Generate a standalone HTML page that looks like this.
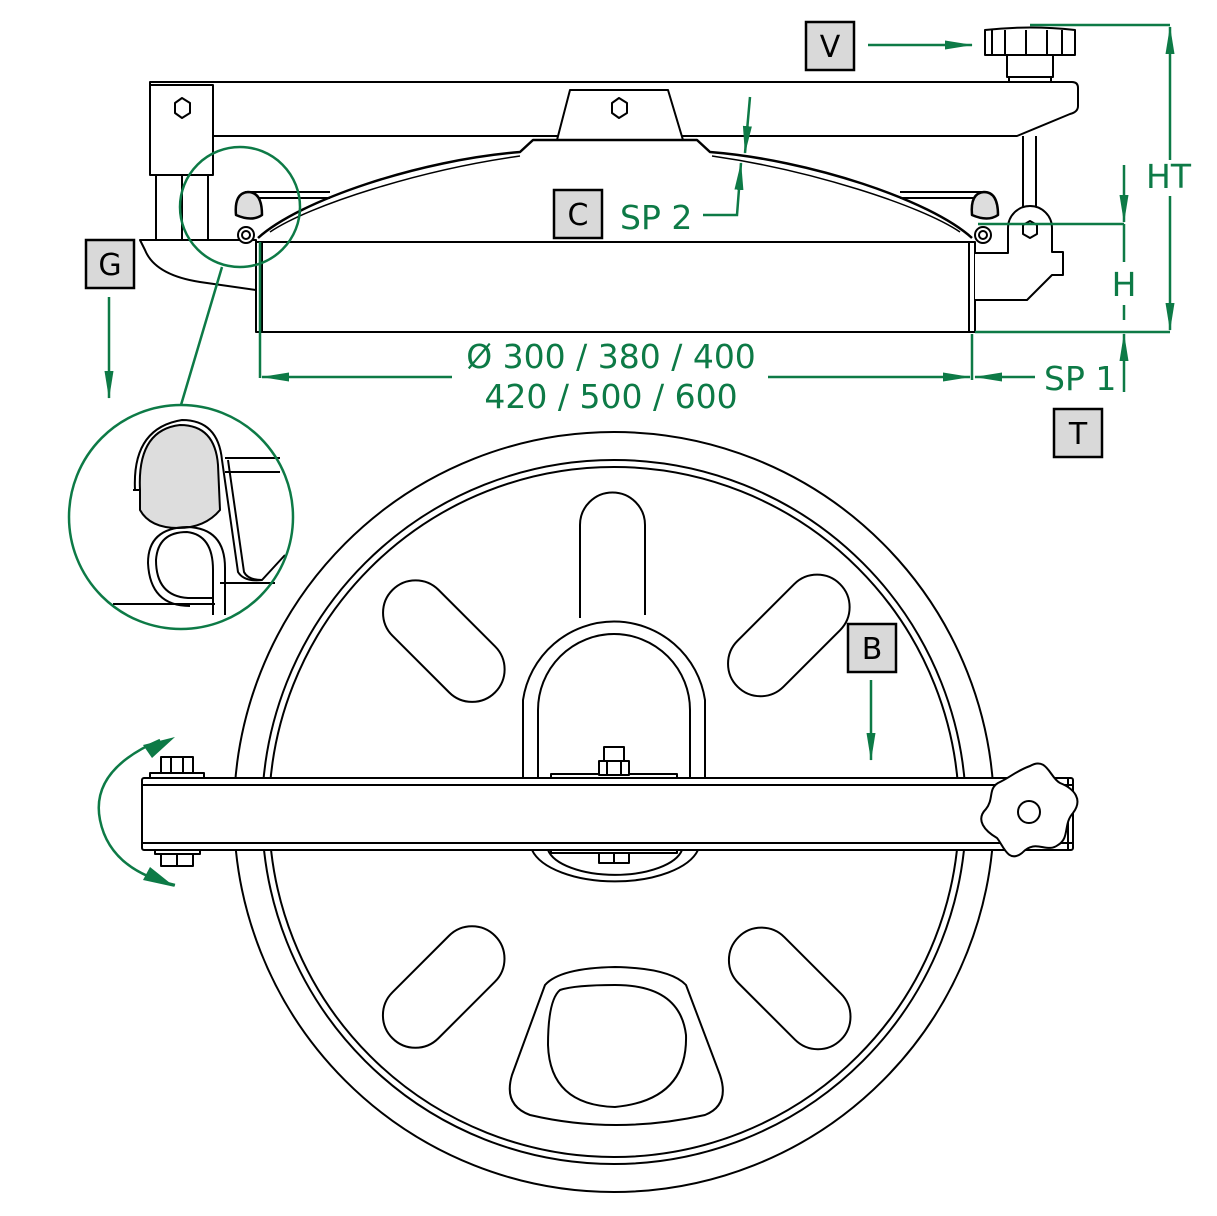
<!DOCTYPE html>
<html><head><meta charset="utf-8"><style>
html,body{margin:0;padding:0;background:#fff}
svg{display:block}
text{font-family:"DejaVu Sans","Liberation Sans",sans-serif}
</style></head><body>
<svg width="1217" height="1216" viewBox="0 0 1217 1216" xmlns="http://www.w3.org/2000/svg">
<defs>
<marker id="ahL" viewBox="0 0 28 10" refX="27" refY="5" markerWidth="28" markerHeight="10" orient="auto-start-reverse" markerUnits="userSpaceOnUse" preserveAspectRatio="none"><path d="M0,0.5 L28,5 L0,9.5 z" fill="#0d7a46"/></marker>
</defs>
<g fill="none" stroke="#000" stroke-width="2" stroke-linejoin="round">
<!-- knob V -->
<path d="M985,30 Q1030,25 1075,30 L1075,55 L985,55 Z" fill="#fff"/>
<path d="M992,30V55 M1005,30V55 M1026,30V55 M1047,30V55 M1062,30V55"/>
<rect x="1007" y="55" width="46" height="22" fill="#fff"/>
<rect x="1009" y="77" width="42" height="5" fill="#fff"/>
<!-- top bar -->
<path d="M150,82 L1072,82 Q1078,82 1078,88 L1078,106 Q1078,112 1070,114 L1017,136 L150,136 Z" fill="#fff"/>
<!-- left bracket -->
<path d="M150,85 L213,85 L213,175 L150,175 Z" fill="#fff"/>
<path d="M175,103 L182,98 L190,103 L190,113 L182,118 L175,113 Z"/>
<rect x="156" y="175" width="52" height="65" fill="#fff"/>
<path d="M182,175V240"/>
<!-- center mount -->
<path d="M570,90 L668,90 L683,140 L557,140 Z" fill="#fff"/>
<path d="M612,103 L619,98 L627,103 L627,113 L619,118 L612,113 Z"/>
<!-- right rod -->
<path d="M1023,136V210 M1036,136V210"/>
<!-- left base plate -->
<path d="M140,240 L256,240 L256,290 L200,282 Q155,275 145,250 Z" fill="#fff"/>
<!-- body -->
<rect x="256" y="242" width="719" height="90" fill="#fff"/>
<path d="M262,242V332 M969,242V332"/>
<!-- right bracket -->
<path d="M975,253 L1008,253 L1008,228 A22,22 0 0 1 1052,228 L1052,252 L1063,252 L1063,275 L1052,275 L1027,300 L975,300" fill="#fff"/>
<path d="M1023,225 L1030,221 L1037,225 L1037,234 L1030,238 L1023,234 Z"/>
<!-- rim ledges -->
<path d="M245,192 L330,192 M245,198 L330,198 M900,192 L985,192 M900,198 L985,198"/>
<!-- dome -->
<path d="M258,238 C300,200 420,160 520,152 L533,140 L697,140 L710,152 C810,160 930,200 972,238" stroke-width="2.5"/>
<path d="M270,232 C310,205 420,170 520,156 M712,156 C810,170 920,205 960,232" stroke-width="1.5"/>
<!-- gaskets -->
<path d="M236,215 Q234,193 248,192 Q262,192 262,215 Q252,222 236,215 Z" fill="#ddd" stroke-width="2.5"/>
<path d="M972,215 Q970,193 984,192 Q998,192 998,215 Q988,222 972,215 Z" fill="#ddd" stroke-width="2.5"/>
<circle cx="246" cy="235" r="8" fill="#fff"/><circle cx="246" cy="235" r="4"/>
<circle cx="983" cy="235" r="8" fill="#fff"/><circle cx="983" cy="235" r="4"/>

<!-- detail circle contents -->
<g>
<path d="M225,458 L280,458 M225,472 L280,472 M220,583 L275,583 M113,604 L215,604"/>
<path d="M140,490 Q137,430 180,425 Q215,425 218,465 L220,510 Q205,528 178,528 Q150,528 140,510 Z" fill="#ddd"/>
<path d="M135,490 Q132,428 182,420 Q218,420 222,460 L238,572 Q244,582 262,580 L285,555" />
<path d="M133,490 L140,490"/>
<path d="M228,460 L244,572 Q248,580 262,580"/>
<path d="M213,615 L213,570 Q213,535 187,532 Q158,532 156,560 Q156,596 188,598 L213,598"/>
<path d="M225,615 L225,568 Q225,528 187,527 Q148,528 148,563 Q150,606 190,606"/>
</g>

<!-- plan view -->
<circle cx="614" cy="812" r="380"/>
<circle cx="614" cy="812" r="352"/>
<circle cx="614" cy="812" r="345"/>
<path d="M580,525 A32.5,32.5 0 0 1 645,525 L645,615" />
<path d="M580,525 L580,618"/>
<rect x="372" y="606" width="145" height="65" rx="32.5" transform="rotate(45 441 639)"/>
<rect x="718" y="606" width="145" height="65" rx="32.5" transform="rotate(-45 786 639)"/>
<rect x="371" y="955" width="145" height="65" rx="32.5" transform="rotate(-45 443 987)"/>
<rect x="718" y="955" width="145" height="65" rx="32.5" transform="rotate(45 789 987)"/>
<path d="M545,985 Q560,968 615,967 Q670,968 686,985 L720,1075 Q730,1105 705,1115 Q615,1135 530,1115 Q503,1105 512,1075 Z"/>
<path d="M560,990 Q575,985 615,985 Q680,985 686,1035 Q688,1100 615,1107 Q550,1105 548,1045 Q548,1000 560,990 Z"/>
<path d="M523,778 L523,700 A92,92 0 0 1 705,700 L705,778" fill="#fff"/>
<path d="M538,778 L538,710 A76,76 0 0 1 690,710 L690,778"/>
<path d="M532,850 A85,40 0 0 0 698,850" fill="#fff"/>
<path d="M548,850 A68,30 0 0 0 682,850"/>
<rect x="551" y="774" width="126" height="4" fill="#fff"/>
<rect x="604" y="747" width="20" height="14" fill="#fff"/>
<rect x="599" y="761" width="30" height="14" fill="#fff"/>
<path d="M607,761V775 M621,761V775"/>
<rect x="551" y="850" width="126" height="3" fill="#fff"/>
<rect x="599" y="853" width="30" height="10" fill="#fff"/><path d="M614,853V863"/>
<rect x="142" y="778" width="931" height="72" rx="2" fill="#fff"/>
<path d="M142,785 H1073 M142,843 H1073"/>
<path d="M1068,778V850"/>
<rect x="150" y="773" width="54" height="5" fill="#fff"/>
<rect x="161" y="757" width="32" height="16" fill="#fff"/><path d="M171,757V773 M183,757V773"/>
<rect x="155" y="850" width="45" height="4" fill="#fff"/>
<rect x="161" y="854" width="32" height="12" fill="#fff"/><path d="M177,854V866"/>
<path d="M1030,766 C1047,756 1050,778 1060,783 C1075,789 1083,800 1073,813 C1063,824 1070,838 1058,845 C1046,854 1036,838 1022,853 C1008,864 1003,845 997,838 C985,831 975,820 986,809 C994,799 988,789 998,783 C1011,777 1016,771 1030,766 Z" fill="#fff"/>
<circle cx="1029" cy="812" r="11"/>
</g>

<!-- green annotations -->
<g fill="none" stroke="#0d7a46" stroke-width="2.5">
<circle cx="240" cy="207" r="60"/>
<circle cx="181" cy="517" r="112"/>
<path d="M222,267 L181,405"/>
<path d="M109,297 L109,398" marker-end="url(#ahL)"/>
<path d="M868,45 L972,45" marker-end="url(#ahL)"/>
<path d="M871,680 L871,760" marker-end="url(#ahL)"/>
<path d="M703,215 L737,215 L741,163" marker-end="url(#ahL)"/>
<path d="M750,97 L745,153" marker-end="url(#ahL)"/>
<path d="M260,242 L260,378 M972,334 L972,380"/>
<path d="M452,377 L262,377" marker-end="url(#ahL)"/>
<path d="M768,377 L970,377" marker-end="url(#ahL)"/>
<path d="M1035,377 L975,377" marker-end="url(#ahL)"/>
<path d="M978,224 L1124,224 M975,332 L1170,332 M1030,25 L1170,25"/>
<path d="M1124,165 L1124,222" marker-end="url(#ahL)"/>
<path d="M1124,224 L1124,262 M1124,305 L1124,320"/>
<path d="M1124,392 L1124,334" marker-end="url(#ahL)"/>
<path d="M1170,160 L1170,27" marker-end="url(#ahL)"/>
<path d="M1170,196 L1170,330" marker-end="url(#ahL)"/>
<path d="M160,740 Q90,770 100,820 Q110,870 175,885" />
</g>
<path d="M143,745 L175,737 L152,758 Z M143,880 L175,887 L150,867 Z" fill="#0d7a46"/>

<g fill="#d9d9d9" stroke="#000" stroke-width="2.5">
<rect x="806" y="22" width="48" height="48"/>
<rect x="554" y="190" width="48" height="48"/>
<rect x="86" y="240" width="48" height="48"/>
<rect x="1054" y="409" width="48" height="48"/>
<rect x="848" y="624" width="48" height="48"/>
</g>
<g font-size="30" text-anchor="middle" fill="#000">
<text x="830" y="57">V</text>
<text x="578" y="225">C</text>
<text x="110" y="275">G</text>
<text x="1078" y="444">T</text>
<text x="872" y="659">B</text>
</g>
<g font-size="33" fill="#0d7a46">
<text x="611" y="368" text-anchor="middle">Ø 300 / 380 / 400</text>
<text x="611" y="408" text-anchor="middle">420 / 500 / 600</text>
<text x="620" y="229">SP 2</text>
<text x="1044" y="390">SP 1</text>
<text x="1146" y="188">HT</text>
<text x="1124" y="296" text-anchor="middle">H</text>
</g>
</svg>
</body></html>
